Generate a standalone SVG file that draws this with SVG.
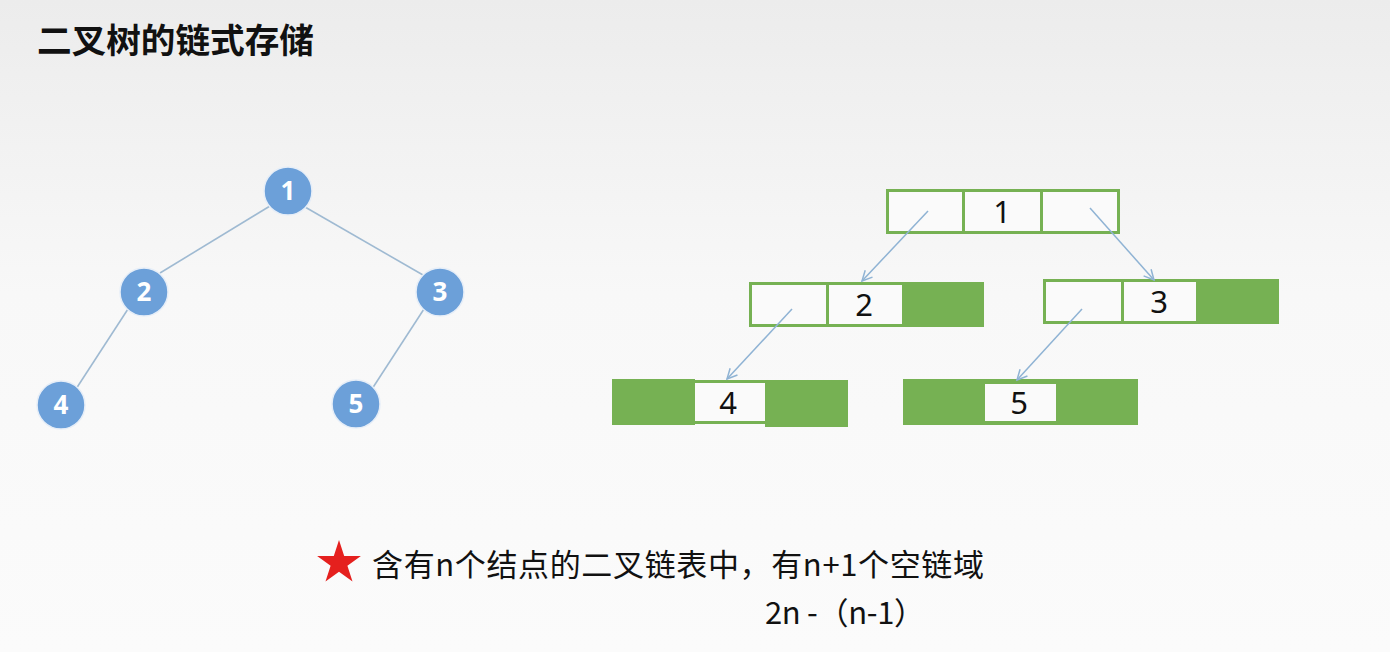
<svg xmlns="http://www.w3.org/2000/svg" width="1390" height="652" viewBox="0 0 1390 652">
  <defs>
    <linearGradient id="bg" x1="0" y1="0" x2="0" y2="1">
      <stop offset="0" stop-color="#ececec"/>
      <stop offset="0.45" stop-color="#f8f8f8"/>
      <stop offset="1" stop-color="#fbfbfb"/>
    </linearGradient>
    <marker id="arr" markerWidth="14" markerHeight="14" refX="12" refY="7" orient="auto" markerUnits="userSpaceOnUse">
      <polyline points="2,2 12,7 2,12" fill="none" stroke="#8fb3d4" stroke-width="1.5"/>
    </marker>
    <style>
      .edge { stroke: #9fbad2; stroke-width: 1.6; fill: none; }
      .ptr { stroke: #8fb3d4; stroke-width: 1.5; fill: none; marker-end: url(#arr); }
      .circ { fill: #6ca0d9; stroke: #e6eef8; stroke-width: 1.5; }
      .cnum { font-family: "Open Sans", "Liberation Sans", sans-serif; font-weight: bold; font-size: 26px; fill: #ffffff; text-anchor: middle; }
      .cell { fill: #fafafa; stroke: #76b153; stroke-width: 3; }
      .null { fill: #76b153; stroke: #76b153; stroke-width: 3; }
      .bnum { font-family: "Noto Sans", "Liberation Sans", sans-serif; font-size: 31px; fill: #111111; text-anchor: middle; }
      .title { font-family: "Noto Sans CJK SC", sans-serif; font-weight: bold; font-size: 34px; fill: #111111; }
      .note { font-family: "Noto Sans CJK SC", sans-serif; font-size: 31px; fill: #111111; }
    </style>
  </defs>
  <rect x="0" y="0" width="1390" height="652" fill="url(#bg)"/>

  <text class="title" x="37" y="53" textLength="277" lengthAdjust="spacingAndGlyphs">二叉树的链式存储</text>

  <!-- tree connectors -->
  <g id="tree-edges">
    <line class="edge" x1="270" y1="206" x2="160" y2="273"/>
    <line class="edge" x1="305" y1="207" x2="423" y2="275"/>
    <line class="edge" x1="128" y1="309" x2="76" y2="389"/>
    <line class="edge" x1="424" y1="309" x2="372" y2="389"/>
  </g>

  <g id="t1"><circle class="circ" cx="288" cy="191" r="24"/><text class="cnum" x="288" y="200">1</text></g>
  <g id="t2"><circle class="circ" cx="144" cy="292" r="24"/><text class="cnum" x="144" y="301">2</text></g>
  <g id="t3"><circle class="circ" cx="440" cy="292" r="24"/><text class="cnum" x="440" y="301">3</text></g>
  <g id="t4"><circle class="circ" cx="61" cy="405" r="24"/><text class="cnum" x="61" y="414">4</text></g>
  <g id="t5"><circle class="circ" cx="356" cy="404" r="24"/><text class="cnum" x="356" y="413">5</text></g>

  <!-- linked nodes -->
  <g id="n1">
    <rect class="cell" x="887.5" y="190.5" width="76" height="42"/>
    <rect class="cell" x="963.5" y="190.5" width="78" height="42"/>
    <rect class="cell" x="1041.5" y="190.5" width="77" height="42"/>
    <text class="bnum" x="1002" y="223">1</text>
  </g>
  <g id="n2">
    <rect class="cell" x="750.5" y="283.5" width="77" height="42"/>
    <rect class="cell" x="827.5" y="283.5" width="76" height="42"/>
    <rect class="null" x="903.5" y="283.5" width="79" height="42"/>
    <text class="bnum" x="864" y="316">2</text>
  </g>
  <g id="n3">
    <rect class="cell" x="1044.5" y="280.5" width="78" height="42"/>
    <rect class="cell" x="1122.5" y="280.5" width="75" height="42"/>
    <rect class="null" x="1197.5" y="280.5" width="80" height="42"/>
    <text class="bnum" x="1159" y="313">3</text>
  </g>
  <g id="n4">
    <rect class="null" x="613.5" y="380.5" width="80" height="43"/>
    <rect class="null" x="766.5" y="381.5" width="80" height="44"/>
    <rect class="cell" x="693.5" y="381.5" width="73" height="41"/>
    <text class="bnum" x="728" y="414">4</text>
  </g>
  <g id="n5">
    <rect class="null" x="904.5" y="380.5" width="232" height="43"/>
    <rect class="cell" x="983.5" y="382.5" width="74" height="40"/>
    <text class="bnum" x="1019" y="414">5</text>
  </g>

  <g id="pointers">
    <line class="ptr" x1="928" y1="211" x2="862" y2="281"/>
    <line class="ptr" x1="1090" y1="208" x2="1154" y2="280"/>
    <line class="ptr" x1="792" y1="309" x2="727" y2="379"/>
    <line class="ptr" x1="1082" y1="309" x2="1017" y2="380"/>
  </g>

  <g id="note">
    <polygon fill="#e5201e" points="339,540 344.2,555.9 360.9,555.9 347.4,565.7 352.5,581.6 339,571.8 325.5,581.6 330.6,565.7 317.1,555.9 333.8,555.9"/>
    <text class="note" x="372" y="576" textLength="612" lengthAdjust="spacing">含有n个结点的二叉链表中，有n+1个空链域</text>
    <text class="note" x="765" y="624" textLength="160" lengthAdjust="spacing">2n -（n-1）</text>
  </g>
</svg>
